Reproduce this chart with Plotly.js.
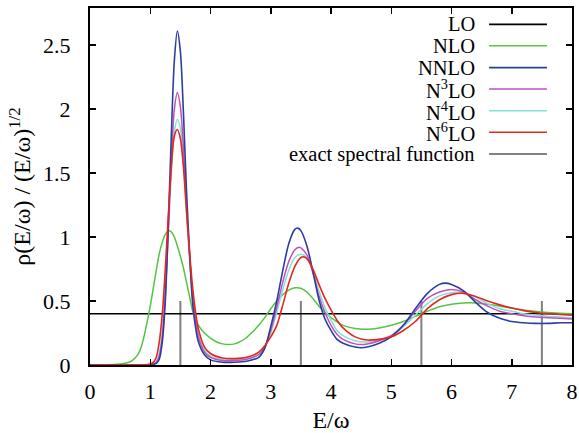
<!DOCTYPE html>
<html><head><meta charset="utf-8">
<script src="https://cdn.plot.ly/plotly-3.0.1.min.js"></script>
<style>html,body{margin:0;padding:0;background:#fff}#plot{width:579px;height:433px}</style>
</head><body><div id="plot"></div>
<script>
// ---- data ----
const seriesNames = ["LO", "NLO", "NNLO", "N<sup>3</sup>LO", "N<sup>4</sup>LO", "N<sup>6</sup>LO", "exact spectral function"];

const loX = [0, 8];
const loY = [0.4, 0.4];

const nloX = [0,0.2,0.4,0.5,0.6,0.7,0.8,0.85,0.9,0.95,1.0,1.05,1.1,1.15,1.2,1.25,1.3,1.35,1.4,1.45,1.5,1.55,1.6,1.65,1.7,1.75,1.8,1.9,2.0,2.1,2.2,2.3,2.4,2.5,2.6,2.7,2.8,2.9,3.0,3.1,3.2,3.3,3.4,3.5,3.6,3.7,3.8,3.9,4.0,4.2,4.4,4.6,4.8,5.0,5.2,5.4,5.6,5.8,6.0,6.2,6.4,6.6,6.8,7.0,7.2,7.4,7.6,7.8,8.0];
const nloY = [0,0.001,0.003,0.007,0.015,0.035,0.085,0.14,0.23,0.34,0.46,0.6,0.74,0.87,0.96,1.02,1.05,1.04,1.0,0.93,0.85,0.76,0.65,0.54,0.43,0.36,0.31,0.25,0.21,0.18,0.165,0.16,0.165,0.185,0.215,0.26,0.31,0.37,0.44,0.5,0.55,0.585,0.603,0.6,0.57,0.52,0.46,0.41,0.37,0.31,0.285,0.28,0.29,0.31,0.34,0.38,0.42,0.455,0.475,0.485,0.485,0.475,0.46,0.445,0.43,0.42,0.41,0.405,0.4];

const nnloX = [0,0.5,0.9,1.0,1.05,1.1,1.15,1.2,1.25,1.3,1.35,1.4,1.45,1.5,1.55,1.6,1.65,1.7,1.75,1.8,1.9,2.0,2.2,2.4,2.6,2.8,2.9,3.0,3.1,3.2,3.3,3.4,3.45,3.5,3.6,3.7,3.8,3.9,4.0,4.1,4.2,4.4,4.5,4.6,4.8,5.0,5.2,5.4,5.6,5.8,5.9,6.0,6.2,6.4,6.6,6.8,7.0,7.2,7.4,7.6,7.8,8.0];
const nnloY = [0,0,0,0.002,0.005,0.012,0.045,0.18,0.5,1.1,1.8,2.38,2.61,2.45,1.98,1.38,0.9,0.5,0.3,0.18,0.08,0.04,0.022,0.022,0.03,0.06,0.13,0.3,0.5,0.74,0.95,1.06,1.07,1.05,0.93,0.73,0.51,0.36,0.27,0.2,0.17,0.14,0.135,0.14,0.17,0.22,0.31,0.44,0.56,0.63,0.64,0.63,0.58,0.49,0.41,0.365,0.34,0.33,0.325,0.325,0.33,0.33];

const n3loX = [0,0.5,0.9,1.0,1.05,1.1,1.15,1.2,1.25,1.3,1.35,1.4,1.45,1.5,1.55,1.6,1.65,1.7,1.75,1.8,1.9,2.0,2.2,2.4,2.6,2.8,2.9,3.0,3.1,3.2,3.3,3.4,3.47,3.5,3.6,3.7,3.8,3.9,4.0,4.1,4.2,4.4,4.5,4.6,4.8,5.0,5.2,5.4,5.6,5.8,6.0,6.2,6.4,6.6,6.8,7.0,7.2,7.4,7.6,7.8,8.0];
const n3loY = [0,0,0,0.003,0.008,0.02,0.07,0.22,0.55,1.05,1.6,2.0,2.13,2.02,1.7,1.25,0.88,0.55,0.35,0.22,0.1,0.06,0.035,0.035,0.045,0.08,0.14,0.27,0.45,0.65,0.81,0.9,0.92,0.915,0.86,0.72,0.54,0.41,0.31,0.24,0.2,0.165,0.16,0.165,0.19,0.23,0.31,0.42,0.52,0.57,0.59,0.57,0.51,0.46,0.42,0.4,0.385,0.375,0.37,0.365,0.36];

const n4loX = [0,0.5,0.9,1.0,1.05,1.1,1.15,1.2,1.25,1.3,1.35,1.4,1.45,1.5,1.55,1.6,1.65,1.7,1.75,1.8,1.9,2.0,2.2,2.4,2.6,2.8,2.9,3.0,3.1,3.2,3.3,3.4,3.5,3.6,3.7,3.8,3.9,4.0,4.1,4.2,4.4,4.6,4.8,5.0,5.2,5.4,5.6,5.8,6.0,6.1,6.2,6.4,6.6,6.8,7.0,7.2,7.4,7.6,7.8,8.0];
const n4loY = [0,0,0.001,0.005,0.011,0.028,0.09,0.26,0.6,1.06,1.5,1.82,1.92,1.85,1.6,1.2,0.85,0.56,0.36,0.24,0.12,0.07,0.045,0.045,0.055,0.09,0.14,0.25,0.41,0.59,0.74,0.84,0.865,0.84,0.74,0.58,0.45,0.35,0.27,0.23,0.19,0.18,0.2,0.23,0.3,0.39,0.48,0.54,0.565,0.57,0.565,0.53,0.48,0.44,0.42,0.4,0.39,0.38,0.375,0.37];

const n6loX = [0,0.5,0.9,1.0,1.05,1.1,1.15,1.2,1.25,1.3,1.35,1.4,1.45,1.5,1.55,1.6,1.65,1.7,1.75,1.8,1.9,2.0,2.2,2.4,2.6,2.8,2.9,3.0,3.1,3.2,3.3,3.4,3.5,3.55,3.6,3.7,3.8,3.9,4.0,4.1,4.2,4.4,4.6,4.8,5.0,5.2,5.4,5.6,5.8,6.0,6.2,6.4,6.6,6.8,7.0,7.2,7.4,7.6,7.8,8.0];
const n6loY = [0,0,0.002,0.008,0.02,0.06,0.18,0.4,0.75,1.17,1.55,1.79,1.84,1.77,1.55,1.22,0.9,0.62,0.42,0.28,0.14,0.09,0.055,0.05,0.06,0.1,0.15,0.22,0.31,0.47,0.64,0.77,0.84,0.845,0.83,0.75,0.63,0.52,0.43,0.35,0.29,0.22,0.195,0.2,0.22,0.27,0.34,0.44,0.51,0.55,0.56,0.535,0.5,0.47,0.445,0.425,0.41,0.4,0.395,0.39];

const exactE = [1.5, 3.5, 5.5, 7.5];
const exactH = [0.5, 0.5, 0.5, 0.5];

// ---- build traces ----
const colors = ["#000000", "#55c443", "#2b3f9f", "#c24fbf", "#82e0d6", "#e8261e", "#808080"];
const exX = [], exY = [];
exactE.forEach((e, i) => { exX.push(e, e, null); exY.push(0, exactH[i], null); });

const xs = [loX, nloX, nnloX, n3loX, n4loX, n6loX, exX];
const ys = [loY, nloY, nnloY, n3loY, n4loY, n6loY, exY];
const widths = [1.6, 1.5, 1.6, 1.5, 1.5, 1.6, 2];
const order = [6, 0, 1, 4, 3, 2, 5];
const traces = order.map(i => ({
  x: xs[i], y: ys[i], type: "scatter", mode: "lines", name: seriesNames[i],
  line: {color: colors[i], width: widths[i], shape: (i === 0 || i === 6) ? "linear" : "spline", smoothing: 0.8},
  showlegend: false, hoverinfo: "skip"
}));

const fnt = "Times New Roman";

// ---- custom legend (text right, sample line to the right, like the original) ----
const legY = [0.954, 0.894, 0.833, 0.773, 0.712, 0.652, 0.591];
const annotations = [], shapes = [];
seriesNames.forEach((n, i) => {
  annotations.push({xref: "paper", yref: "paper", x: 0.80, y: legY[i], xanchor: "right", yanchor: "middle",
    text: n, showarrow: false, borderpad: 0, font: {family: fnt, size: 20.5, color: "#000"}});
  shapes.push({type: "line", xref: "paper", yref: "paper", x0: 0.828, x1: 0.948, y0: legY[i], y1: legY[i],
    line: {color: colors[i], width: widths[i]}});
});

const axisCommon = {showgrid: false, zeroline: false, showline: true, linecolor: "#000", linewidth: 2,
  mirror: "allticks", ticks: "inside", ticklen: 6, tickwidth: 1.5, tickcolor: "#000",
  tickfont: {family: fnt, size: 22, color: "#000"}};

const layout = {
  width: 579, height: 433,
  margin: {l: 90, r: 7, t: 8, b: 68},
  paper_bgcolor: "#fff", plot_bgcolor: "#fff",
  showlegend: false,
  xaxis: Object.assign({}, axisCommon, {range: [0, 8], tickvals: [0,1,2,3,4,5,6,7,8], ticklabelstandoff: 6,
    title: {text: "E/ω", font: {family: fnt, size: 24, color: "#000"}, standoff: 12}}),
  yaxis: Object.assign({}, axisCommon, {range: [0, 2.79], tickvals: [0,0.5,1,1.5,2,2.5], ticktext: ["0","0.5","1","1.5","2","2.5"], ticklabelstandoff: 13,
    title: {text: "ρ(E/ω) / (E/ω)<sup>1/2</sup>", font: {family: fnt, size: 24, color: "#000"}, standoff: 6}}),
  annotations: annotations,
  shapes: shapes
};

Plotly.newPlot("plot", traces, layout, {staticPlot: true, displayModeBar: false});
</script>
</body></html>
